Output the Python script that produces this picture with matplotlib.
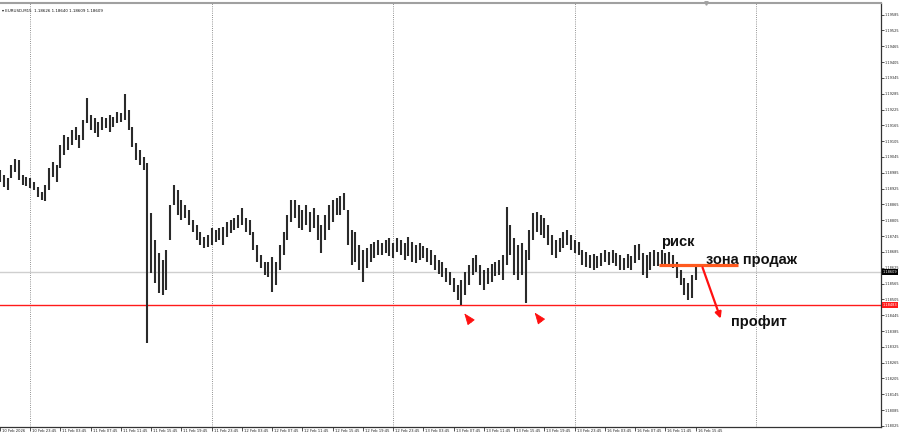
#!/usr/bin/env python3
# EURUSD M15: свечи (high/low) + разметка "риск / зона продаж / профит".
import matplotlib
matplotlib.use("Agg")
import matplotlib.pyplot as plt
import matplotlib.transforms as mtransforms

# --- данные (один бар = 30 минут, ось x в часах от 10 Feb 19:45) ---
bar_hours = 0.5

highs = [
    1.18996, 1.18977, 1.18965, 1.19015, 1.19037, 1.19034, 1.18977, 1.18969, 1.18965, 1.18950,
    1.18931, 1.18912, 1.18939, 1.19003, 1.19026, 1.19015, 1.19090, 1.19128, 1.19121, 1.19147,
    1.19159, 1.19128, 1.19185, 1.19269, 1.19204, 1.19193, 1.19178, 1.19197, 1.19193, 1.19204,
    1.19197, 1.19216, 1.19212, 1.19284, 1.19223, 1.19159, 1.19098, 1.19072, 1.19045, 1.19022,
    1.18833, 1.18730, 1.18681, 1.18655, 1.18692, 1.18863, 1.18939, 1.18920, 1.18882, 1.18863,
    1.18844, 1.18806, 1.18787, 1.18761, 1.18742, 1.18749, 1.18776, 1.18768, 1.18776, 1.18780,
    1.18799, 1.18806, 1.18814, 1.18825, 1.18852, 1.18814, 1.18806, 1.18761, 1.18711, 1.18674,
    1.18647, 1.18647, 1.18666, 1.18647, 1.18711, 1.18761, 1.18825, 1.18882, 1.18882, 1.18863,
    1.18844, 1.18863, 1.18837, 1.18852, 1.18825, 1.18787, 1.18825, 1.18863, 1.18882, 1.18890,
    1.18897, 1.18909, 1.18844, 1.18768, 1.18761, 1.18711, 1.18692, 1.18700, 1.18715, 1.18723,
    1.18730, 1.18719, 1.18730, 1.18738, 1.18719, 1.18738, 1.18730, 1.18719, 1.18742, 1.18723,
    1.18711, 1.18719, 1.18708, 1.18700, 1.18692, 1.18674, 1.18655, 1.18647, 1.18624, 1.18609,
    1.18586, 1.18560, 1.18579, 1.18609, 1.18636, 1.18662, 1.18674, 1.18636, 1.18617, 1.18624,
    1.18639, 1.18647, 1.18655, 1.18674, 1.18855, 1.18787, 1.18738, 1.18711, 1.18719, 1.18692,
    1.18768, 1.18833, 1.18837, 1.18825, 1.18814, 1.18787, 1.18749, 1.18730, 1.18738, 1.18761,
    1.18768, 1.18749, 1.18730, 1.18723, 1.18692, 1.18685, 1.18674, 1.18677, 1.18670, 1.18681,
    1.18692, 1.18685, 1.18692, 1.18681, 1.18674, 1.18662, 1.18677, 1.18670, 1.18711, 1.18715,
    1.18681, 1.18674, 1.18685, 1.18692, 1.18685, 1.18692, 1.18681, 1.18685, 1.18674, 1.18647,
    1.18617, 1.18586, 1.18567, 1.18598, 1.18636,
]

lows = [
    1.18950, 1.18931, 1.18920, 1.18965, 1.18988, 1.18958, 1.18939, 1.18935, 1.18927, 1.18920,
    1.18893, 1.18882, 1.18878, 1.18920, 1.18969, 1.18950, 1.19003, 1.19053, 1.19072, 1.19090,
    1.19109, 1.19079, 1.19109, 1.19174, 1.19147, 1.19136, 1.19121, 1.19147, 1.19155, 1.19140,
    1.19159, 1.19174, 1.19178, 1.19185, 1.19147, 1.19083, 1.19034, 1.19015, 1.18996, 1.18340,
    1.18605, 1.18567, 1.18530, 1.18522, 1.18541, 1.18730, 1.18863, 1.18825, 1.18806, 1.18814,
    1.18787, 1.18761, 1.18730, 1.18711, 1.18700, 1.18704, 1.18711, 1.18723, 1.18730, 1.18711,
    1.18742, 1.18757, 1.18768, 1.18776, 1.18787, 1.18761, 1.18749, 1.18692, 1.18647, 1.18624,
    1.18598, 1.18590, 1.18533, 1.18560, 1.18617, 1.18674, 1.18730, 1.18799, 1.18814, 1.18776,
    1.18768, 1.18787, 1.18761, 1.18776, 1.18730, 1.18681, 1.18730, 1.18768, 1.18799, 1.18825,
    1.18825, 1.18844, 1.18711, 1.18636, 1.18647, 1.18617, 1.18571, 1.18624, 1.18647, 1.18662,
    1.18674, 1.18674, 1.18681, 1.18670, 1.18662, 1.18685, 1.18674, 1.18655, 1.18670, 1.18647,
    1.18643, 1.18655, 1.18662, 1.18647, 1.18636, 1.18617, 1.18602, 1.18590, 1.18571, 1.18560,
    1.18533, 1.18503, 1.18484, 1.18522, 1.18560, 1.18598, 1.18609, 1.18560, 1.18541, 1.18564,
    1.18571, 1.18594, 1.18598, 1.18579, 1.18636, 1.18674, 1.18598, 1.18579, 1.18598, 1.18492,
    1.18655, 1.18730, 1.18761, 1.18749, 1.18738, 1.18711, 1.18674, 1.18662, 1.18685, 1.18700,
    1.18711, 1.18692, 1.18681, 1.18674, 1.18636, 1.18628, 1.18624, 1.18617, 1.18624, 1.18632,
    1.18647, 1.18636, 1.18643, 1.18632, 1.18617, 1.18617, 1.18624, 1.18617, 1.18643, 1.18655,
    1.18598, 1.18586, 1.18617, 1.18632, 1.18632, 1.18636, 1.18628, 1.18636, 1.18624, 1.18586,
    1.18560, 1.18522, 1.18503, 1.18511, 1.18579,
]

time_labels = [
    "10 Feb 2026", "10 Feb 23:45", "11 Feb 03:45", "11 Feb 07:45", "11 Feb 11:45",
    "11 Feb 15:45", "11 Feb 19:45", "11 Feb 23:45", "12 Feb 03:45", "12 Feb 07:45",
    "12 Feb 11:45", "12 Feb 15:45", "12 Feb 19:45", "12 Feb 23:45", "13 Feb 03:45",
    "13 Feb 07:45", "13 Feb 11:45", "13 Feb 15:45", "13 Feb 19:45", "13 Feb 23:45",
    "16 Feb 03:45", "16 Feb 07:45", "16 Feb 11:45", "16 Feb 15:45",
]
label_step_hours = 4
day_lines_hours = [4, 28, 52, 76, 100]

price_min_label = 1.18025
price_step = 0.0006
price_label_count = 27

current_price = 1.18609
support_price = 1.18483
header = "\u25be EURUSD,M15  1.18626 1.18640 1.18609 1.18609"

# зона продаж и стрелка на профит (часы, цена)
zone_start, zone_end, zone_price = 87.2, 97.6, 1.18636
arrow_from = (92.9, 1.18626)
arrow_to = (95.3, 1.18432)
small_arrows = [((61.4, 1.18452), (62.3, 1.18418)), ((70.7, 1.18455), (71.6, 1.18421))]

# --- рисунок ---
fig = plt.figure(figsize=(9.0, 4.37), dpi=100)
ax = fig.add_axes([0.0, 10 / 437, 881 / 900, 424 / 437])
ax.set_xlim(0, 116.5)
ax.set_ylim(1.18021, 1.19629)

xs = [i * bar_hours for i in range(len(highs))]
ax.vlines(xs, lows, highs, color="#2a2a2a", lw=1.5, zorder=3)

# сетка по дням
for h in day_lines_hours:
    ax.axvline(h, color="#707070", lw=0.6, linestyle=(0, (1, 1.6)), zorder=1)

ax.axhline(current_price, color="#cfcfcf", lw=1.0, zorder=2)
ax.axhline(support_price, color="#ff1a1a", lw=1.0, zorder=2)

# зона продаж
ax.plot([zone_start, zone_end], [zone_price, zone_price], color="#ff5a1f", lw=2.3, zorder=5,
        solid_capstyle="butt")
ax.annotate("", xy=arrow_to, xytext=arrow_from,
            arrowprops=dict(arrowstyle="-|>", color="#ff1010", lw=1.6, mutation_scale=9,
                            shrinkA=0, shrinkB=0), zorder=6)
for tip, tail in small_arrows:
    ax.annotate("", xy=tip, xytext=tail,
                arrowprops=dict(arrowstyle="-|>,head_length=0.9,head_width=0.35",
                                color="#ff1010", lw=0.6, mutation_scale=8,
                                shrinkA=0, shrinkB=0))

txt_kw = dict(fontsize=10.5, fontweight="bold", color="#111111", va="center", ha="left",
              family="Liberation Sans")
ax.text(87.4, 1.18723, "риск", **txt_kw)
ax.text(93.4, 1.18655, "зона продаж", **txt_kw)
ax.text(96.7, 1.18418, "профит", **txt_kw)

# оси в стиле терминала
ax.spines["left"].set_visible(False)
ax.spines["top"].set_color("#a0a0a0")
ax.spines["top"].set_linewidth(1.5)
ax.spines["right"].set_color("#333333")
ax.spines["bottom"].set_color("#333333")
ax.spines["right"].set_linewidth(0.9)
ax.spines["bottom"].set_linewidth(0.9)

ax.yaxis.tick_right()
yt = [price_min_label + k * price_step for k in range(price_label_count)]
ax.set_yticks(yt)
ax.set_yticklabels([f"{v:.5f}" for v in yt], fontsize=2.5)
ax.tick_params(axis="y", length=2, width=0.6, pad=0.8, colors="#333333", labelcolor="#222222")

xt = [k * label_step_hours for k in range(len(time_labels))]
ax.set_xticks(xt)
ax.set_xticklabels([])
ax.tick_params(axis="x", length=3, width=0.6, direction="out", colors="#333333")
btrans = mtransforms.blended_transform_factory(ax.transData, ax.transAxes)
for k, lab in enumerate(time_labels):
    ax.text(xt[k] + 0.25, -0.005, lab, transform=btrans, fontsize=2.7, color="#222222",
            ha="left", va="top", clip_on=False)

# метки цены справа
rtrans = mtransforms.blended_transform_factory(ax.transAxes, ax.transData)
ax.text(1.0015, current_price, f"{current_price:.5f}", transform=rtrans, fontsize=2.5,
        color="white", va="center", ha="left", clip_on=False,
        bbox=dict(boxstyle="square,pad=0.2", fc="black", ec="black", lw=0))
ax.text(1.0015, support_price, f"{support_price:.5f}", transform=rtrans, fontsize=2.5,
        color="white", va="center", ha="left", clip_on=False,
        bbox=dict(boxstyle="square,pad=0.2", fc="#ff1a1a", ec="#ff1a1a", lw=0))

ax.text(0.002, 0.985, header, transform=ax.transAxes, fontsize=2.9, color="#111111",
        ha="left", va="top")
ax.plot([93.3], [1.0], transform=btrans, marker="v", ms=2.5, color="#a0a0a0", clip_on=False)

fig.savefig("out.png", dpi=100, facecolor="white")
